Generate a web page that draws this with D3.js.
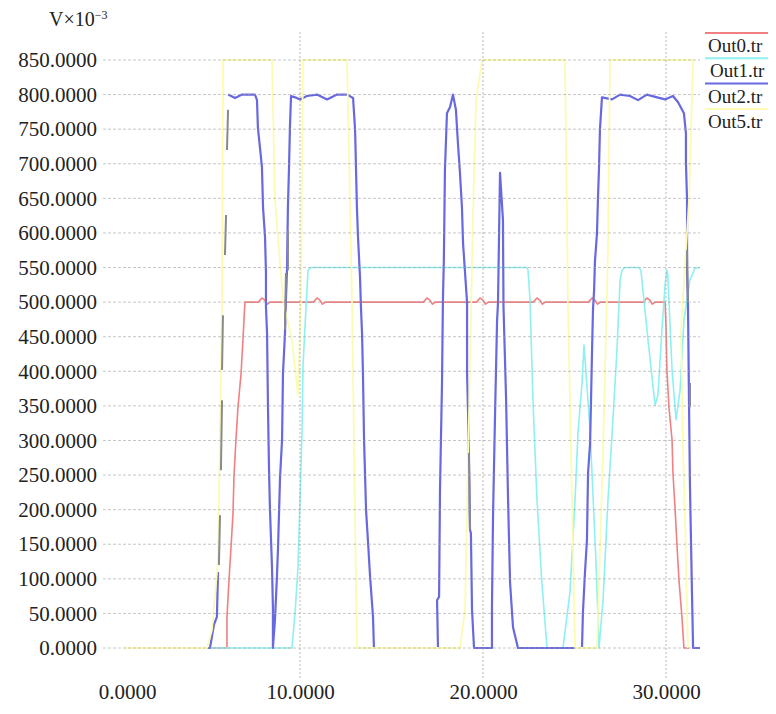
<!DOCTYPE html>
<html>
<head>
<meta charset="utf-8">
<script src="https://cdn.jsdelivr.net/npm/d3@7"></script>
<style>
  html, body { margin: 0; padding: 0; background: #fff; }
  svg { display: block; }
  text { font-family: "Liberation Serif", "Times New Roman", serif; fill: #222; }
</style>
</head>
<body>
<svg id="chart" width="776" height="714"></svg>
<script>
// ---------------- data ----------------
const seriesNames = ["Out0.tr", "Out1.tr", "Out2.tr", "Out5.tr"];
const seriesColors = ["#f28080", "#8ef0f0", "#6868e0", "#fbfbb4"];
const xTicks = [0, 10, 20, 30];
const yTicks = [0, 50, 100, 150, 200, 250, 300, 350, 400, 450, 500, 550, 600, 650, 700, 750, 800, 850];
const yTitle = "V×10";
const yTitleExp = "−3";

// [time, mV]
const out0 = [[0.44,0],[6.01,0],[6.01,45],[6.12,98],[6.23,146],[6.34,195],[6.39,247],[6.50,301],[6.61,348],[6.78,397],[6.89,449],[6.99,500],
  [7.72,500],[7.92,506],[8.07,503],[8.22,497],[8.37,500],
  [10.73,500],[10.93,506],[11.08,503],[11.23,497],[11.38,500],
  [16.74,500],[16.94,506],[17.09,503],[17.24,497],[17.39,500],
  [19.64,500],[19.84,506],[19.99,503],[20.14,497],[20.29,500],
  [22.75,500],[22.95,506],[23.10,503],[23.25,497],[23.40,500],
  [25.76,500],[25.96,506],[26.11,503],[26.26,497],[26.41,500],
  [28.76,500],[28.96,506],[29.11,503],[29.26,497],[29.41,500],
  [29.95,500],[30.00,464],[30.05,402],[30.16,348],[30.33,301],[30.38,253],[30.49,204],[30.60,149],[30.71,98],[30.87,45],[30.98,0],[31.26,0]];

const out1 = [[0.44,0],[9.56,0],[9.73,51],[9.89,117],[10.00,214],[10.11,311],[10.16,406],[10.33,493],[10.44,546],[10.60,550],
  [22.40,550],[22.46,546],[22.57,503],[22.73,358],[22.95,214],[23.22,94],[23.50,0],[24.37,0],[24.75,80],[25.03,214],[25.19,311],
  [25.41,383],[25.52,438],[25.85,315],[26.17,127],[26.34,0],[26.56,69],[26.83,214],[27.10,330],[27.32,431],[27.49,532],[27.60,546],
  [27.75,550],[28.50,550],[28.63,546],[29.02,445],[29.40,351],[29.56,366],[29.78,460],[29.95,525],[30.05,546],[30.10,539],
  [30.33,402],[30.55,330],[30.77,373],[30.98,474],[31.31,532],[31.58,549],[31.86,550]];

const out2 = [[0.44,0],[5.08,0],[5.30,34],[5.46,45],[5.52,110],null,[6.07,800],[6.45,795],[6.83,800],[7.54,800],[7.65,792],[7.70,752],
  [7.81,724],[7.92,695],[7.98,637],[8.09,594],[8.14,542],[8.14,493],[8.20,455],[8.25,348],[8.31,253],[8.36,199],[8.47,117],[8.52,59],
  [8.52,0],[8.63,40],[8.74,103],[8.80,146],[8.91,247],[9.02,301],[9.07,397],[9.18,455],[9.23,503],[9.29,546],[9.34,637],[9.40,695],
  [9.45,752],[9.51,798],[9.73,796],[10.00,793],[10.38,798],[10.93,800],[11.48,793],[12.02,800],[12.57,800],[12.90,795],[13.01,749],
  [13.11,637],[13.17,594],[13.28,536],[13.33,493],[13.39,455],[13.44,397],[13.50,301],[13.61,199],[13.72,152],[13.83,103],[13.99,45],
  [14.04,0],[17.54,0],[17.49,69],[17.60,74],[17.65,228],[17.76,383],[17.81,503],[17.86,560],[17.92,691],[18.03,773],[18.20,782],
  [18.36,800],[18.52,778],[18.63,730],[18.74,687],[18.85,637],[18.91,585],[19.02,542],[19.13,499],[19.13,397],[19.18,344],[19.23,282],
  [19.29,171],[19.34,166],[19.40,55],[19.51,0],[20.49,0],[20.49,59],[20.55,195],[20.66,340],[20.77,474],[20.82,499],[20.93,687],
  [21.09,619],[21.12,493],[21.26,361],[21.37,214],[21.48,94],[21.64,30],[21.91,0],[25.41,0],[25.46,51],[25.57,108],[25.68,156],
  [25.74,253],[25.85,295],[25.90,354],[25.96,431],[26.01,489],[26.07,517],[26.12,560],[26.23,600],[26.28,648],[26.34,695],[26.39,749],
  [26.50,796],[27.05,793],[27.49,800],[28.03,798],[28.47,792],[28.96,800],[29.51,796],[29.95,793],[30.38,798],[30.66,789],[30.98,773],
  [31.09,744],[31.09,701],[31.15,648],[31.15,600],[31.15,542],[31.20,499],[31.26,348],[31.31,233],[31.42,79],[31.48,0],[31.86,0]];

const out5 = [[0.44,0],[4.92,0],[5.19,26],[5.52,127],[5.74,503],[5.79,850],[8.47,850],[8.63,648],[9.07,503],[9.56,445],[9.89,366],
  [10.05,503],[10.16,850],[12.57,850],[12.84,503],[13.11,0],[18.74,0],[19.02,55],[19.45,623],[19.62,792],[19.95,850],[24.48,850],
  [24.64,503],[25.03,0],[26.23,0],[26.56,286],[26.83,575],[26.94,850],[31.48,850],[31.26,648],[30.82,460],[30.93,286],[31.04,185],[31.20,0]];

// grey edge trace visible along some blue transitions
const edgeTrace = [[5.57,120],[5.63,192],null,[5.68,257],[5.74,358],null,[5.74,402],[5.79,481],null,[5.90,568],[5.96,626],null,
  [6.01,720],[6.07,778],null,[9.18,460],[9.23,542],null,[9.34,546],[9.34,604],null,[19.23,282],[19.29,171],null,
  [31.15,575],[31.20,499],null,[31.31,383],[31.31,348]];

// ---------------- layout ----------------
const svg = d3.select("#chart");
svg.append("rect").attr("width", 776).attr("height", 714).attr("fill", "#fff");

const x = d3.scaleLinear().domain([0, 30]).range([117, 666]);
const y = d3.scaleLinear().domain([0, 850]).range([648, 60]);
const plotLeft = 103, plotRight = 700, vTop = 32, vBottom = 680;

const line = d3.line()
  .defined(d => d !== null)
  .x(d => x(d[0]))
  .y(d => y(d[1]));

const seriesData = [out0, out1, out2, out5];
const widths = [1.6, 1.6, 2.2, 1.8];
const gLines = svg.append("g");
seriesData.forEach((s, i) => {
  gLines.append("path").datum(s)
    .attr("fill", "none")
    .attr("stroke", seriesColors[i])
    .attr("stroke-width", widths[i])
    .attr("stroke-linejoin", "round")
    .attr("d", line);
});
gLines.append("path").datum(edgeTrace)
  .attr("fill", "none")
  .attr("stroke", "#8a8a8a")
  .attr("stroke-width", 2)
  .attr("d", line);

// grid (drawn over the traces)
const grid = svg.append("g");
grid.selectAll("line.h").data(yTicks).join("line")
  .attr("x1", plotLeft).attr("x2", plotRight)
  .attr("y1", d => y(d)).attr("y2", d => y(d))
  .attr("stroke", "#a0a0a0").attr("stroke-opacity", 0.6)
  .attr("stroke-width", 1).attr("stroke-dasharray", "3,2");
grid.selectAll("line.v").data(xTicks.filter(d => d > 0)).join("line")
  .attr("x1", d => x(d)).attr("x2", d => x(d))
  .attr("y1", vTop).attr("y2", vBottom)
  .attr("stroke", "#a0a0a0").attr("stroke-opacity", 0.75)
  .attr("stroke-width", 1).attr("stroke-dasharray", "2,2");

// axes
const fmt = d3.format(".4f");
const yAxis = svg.append("g").attr("transform", `translate(${plotLeft},0)`)
  .call(d3.axisLeft(y).tickValues(yTicks).tickFormat(fmt).tickSize(0).tickPadding(6));
yAxis.select(".domain").remove();
yAxis.selectAll("text").attr("font-size", 21).attr("font-family", "Liberation Serif, serif").attr("fill", "#2a2a2a");

const xAxis = svg.append("g").attr("transform", `translate(0,${676})`)
  .call(d3.axisBottom(x).tickValues(xTicks).tickFormat(fmt).tickSize(0).tickPadding(8));
xAxis.select(".domain").remove();
xAxis.selectAll("text").attr("font-size", 21).attr("font-family", "Liberation Serif, serif").attr("fill", "#2a2a2a")
  .filter(d => d === 0).attr("dx", 10);

// y title
const t = svg.append("text").attr("x", 49).attr("y", 26).attr("font-size", 20);
t.append("tspan").text(yTitle);
t.append("tspan").attr("font-size", 12).attr("dy", -7).text(yTitleExp);

// legend
const legend = svg.append("g");
seriesNames.forEach((name, i) => {
  const ly = 33 + i * 25.3;
  legend.append("line").attr("x1", 705).attr("x2", 768).attr("y1", ly).attr("y2", ly)
    .attr("stroke", seriesColors[i]).attr("stroke-width", 2);
  legend.append("text").attr("x", i === 1 ? 710 : 708).attr("y", ly + 19).attr("font-size", 19).text(name);
});
</script>
</body>
</html>
